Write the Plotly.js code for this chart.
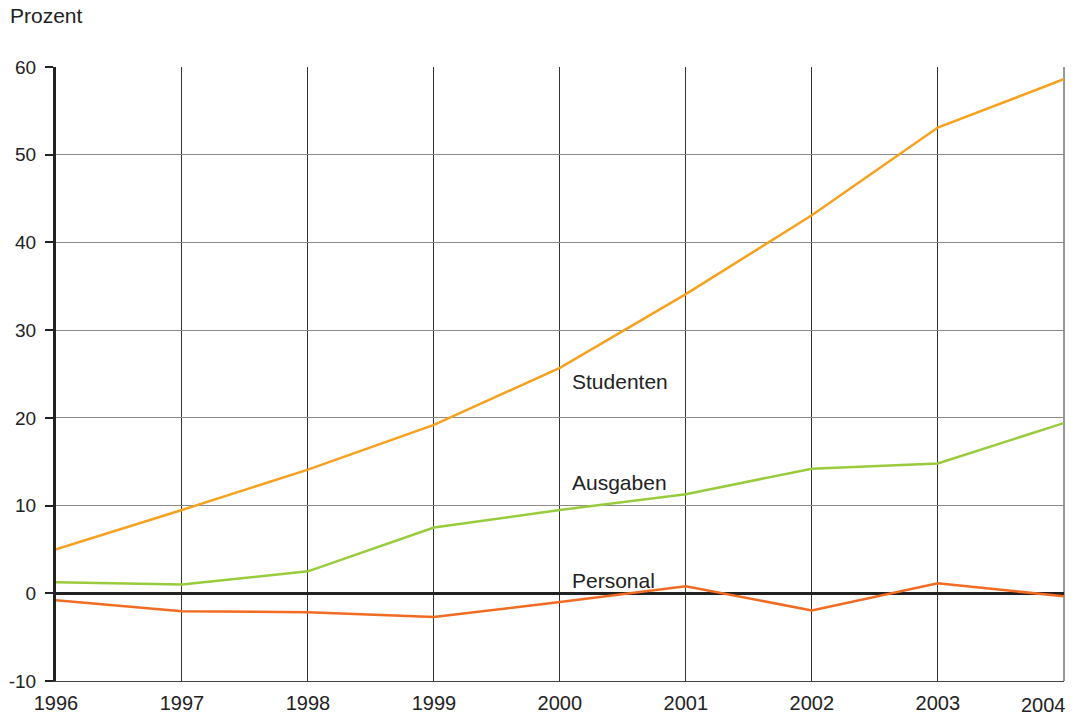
<!DOCTYPE html>
<html>
<head>
<meta charset="utf-8">
<script src="https://cdn.plot.ly/plotly-3.0.1.min.js"></script>
<style>html,body{margin:0;padding:0;background:#fff;}#chart{width:1075px;height:717px;}</style>
</head>
<body>
<div id="chart"></div>
<script>
const years = [1996, 1997, 1998, 1999, 2000, 2001, 2002, 2003, 2004];
const yearLabels = ["1996", "1997", "1998", "1999", "2000", "2001", "2002", "2003", "2004"];
const studenten = [5.0, 9.5, 14.1, 19.2, 25.7, 34.1, 43.1, 53.1, 58.6];
const ausgaben = [1.25, 1.0, 2.5, 7.5, 9.5, 11.3, 14.2, 14.8, 19.4];
const personal = [-0.8, -2.05, -2.15, -2.7, -1.0, 0.8, -1.95, 1.15, -0.35];
const seriesNames = ["Studenten", "Ausgaben", "Personal"];
const labelY = [24.2, 12.6, 1.5];
const yTicks = [-10, 0, 10, 20, 30, 40, 50, 60];
const yTickLabels = ["-10", "0", "10", "20", "30", "40", "50", "60"];
const yUnit = "Prozent";

const colors = ["#F7A11E", "#99CC3C", "#F26B22"];
const data = [studenten, ausgaben, personal].map((vals, i) => ({
  x: years, y: vals, type: "scatter", mode: "lines",
  name: seriesNames[i], line: {color: colors[i], width: 2.5}, hoverinfo: "skip"
}));

const fam = "Liberation Sans, Arial, sans-serif";
const font = {family: fam, size: 20, color: "#222"};
const lfont = {family: fam, size: 21, color: "#222"};
const yfont = {family: fam, size: 19, color: "#222"};

// x tick labels: last label is right-aligned so it stays inside the picture
const xTickText = yearLabels.map((t, i) => i === yearLabels.length - 1 ? "" : t);

const annotations = seriesNames.map((n, i) => ({
  x: 2000.08, y: labelY[i], xref: "x", yref: "y", text: n, showarrow: false,
  xanchor: "left", yanchor: "middle", font: lfont
}));
annotations.push({
  xref: "paper", yref: "paper", x: (1068 - 56) / 1008, y: -(705 - 681) / 614,
  xanchor: "right", yanchor: "middle", text: yearLabels[yearLabels.length - 1],
  showarrow: false, font: font
});
annotations.push({
  xref: "paper", yref: "paper", x: (8 - 56) / 1008, y: 1 + (67 - 16) / 614,
  xanchor: "left", yanchor: "middle", text: yUnit, showarrow: false, font: lfont
});

const layout = {
  width: 1075, height: 717,
  margin: {l: 56, r: 11, t: 67, b: 36, pad: 0},
  paper_bgcolor: "#fff", plot_bgcolor: "#fff",
  showlegend: false,
  font: font,
  xaxis: {
    range: [1996, 2004.002], tickvals: years, ticktext: xTickText,
    showgrid: true, gridcolor: "#333", gridwidth: 1,
    zeroline: false, showline: true, linecolor: "#444", linewidth: 1,
    ticks: "", tickfont: font, ticklabelstandoff: 4
  },
  yaxis: {
    range: [-10, 60], tickvals: yTicks, ticktext: yTickLabels,
    showgrid: true, gridcolor: "#8a8a8a", gridwidth: 1,
    zeroline: true, zerolinecolor: "#222", zerolinewidth: 2.5,
    showline: true, linecolor: "#222", linewidth: 3,
    ticks: "outside", ticklen: 8, tickwidth: 2, tickcolor: "#222",
    tickfont: yfont, ticklabelstandoff: 5
  },
  shapes: [{
    type: "line", xref: "paper", yref: "paper", x0: 1, x1: 1, y0: 0, y1: 1,
    line: {color: "#333", width: 1}, layer: "below"
  }],
  annotations: annotations
};

Plotly.newPlot("chart", data, layout, {staticPlot: true, displayModeBar: false});
</script>
</body>
</html>
